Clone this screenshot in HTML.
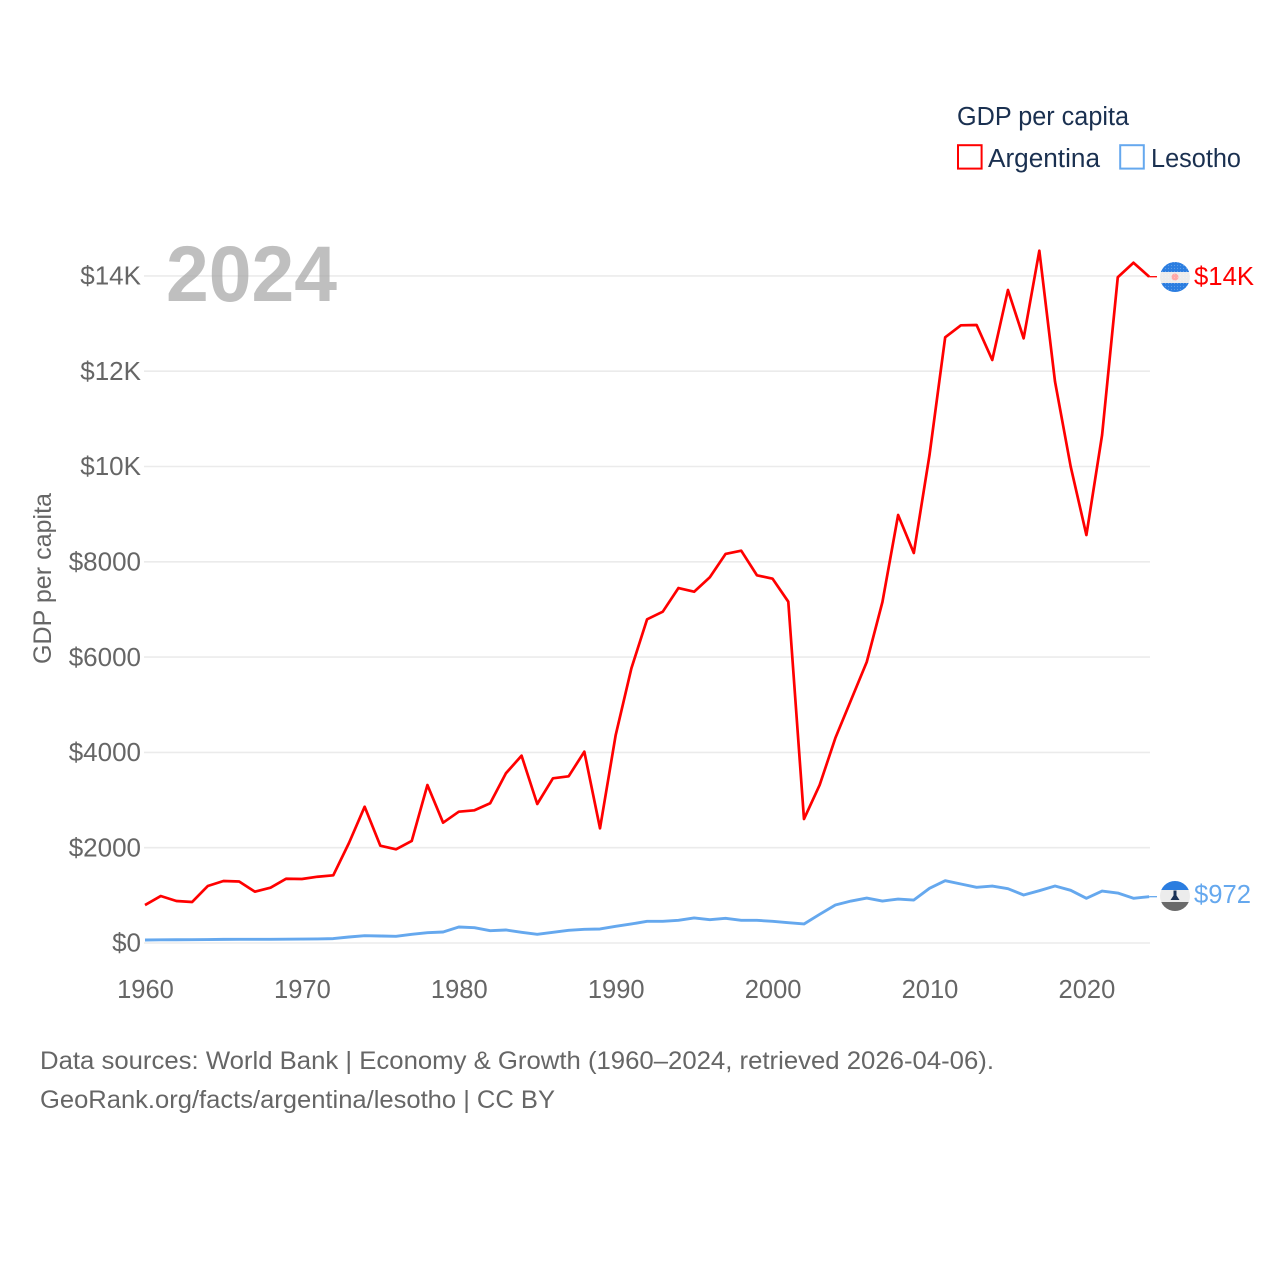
<!DOCTYPE html>
<html lang="en">
<head>
<meta charset="utf-8">
<title>GDP per capita: Argentina and Lesotho</title>
<style>
html,body{margin:0;padding:0;background:#fff;}
svg{display:block;font-family:"Liberation Sans",sans-serif;}
</style>
</head>
<body>
<svg id="chart" width="1280" height="1280" viewBox="0 0 1280 1280" xmlns="http://www.w3.org/2000/svg">
  <defs>
    <clipPath id="flag-clip-ar"><circle cx="1175" cy="277" r="15"/></clipPath>
    <clipPath id="flag-clip-ls"><circle cx="1175" cy="896" r="15"/></clipPath>
    <pattern id="flag-dots" width="3" height="3" patternUnits="userSpaceOnUse">
      <circle cx="1.5" cy="1.5" r="0.6" fill="#ffffff" fill-opacity="0.25"/>
    </pattern>
  </defs>
  <rect x="0" y="0" width="1280" height="1280" fill="#ffffff"/>

  <g id="grid"></g>

  <text x="166" y="301" font-size="79" font-weight="700" fill="#a6a6a6" fill-opacity="0.72" textLength="171" lengthAdjust="spacingAndGlyphs">2024</text>

  <g id="y-labels"></g>
  <g id="x-labels"></g>

  <text transform="translate(51 664) rotate(-90)" x="0" y="0" font-size="25" fill="#666666" textLength="171" lengthAdjust="spacingAndGlyphs">GDP per capita</text>

  <g id="series"></g>

  <g clip-path="url(#flag-clip-ar)">
    <rect x="1160" y="262" width="30" height="10" fill="#2b7de0"/>
    <rect x="1160" y="272" width="30" height="11" fill="#ececec"/>
    <rect x="1160" y="283" width="30" height="10" fill="#2b7de0"/>
    <circle cx="1175" cy="277" r="3.5" fill="#ffa8a8"/>
    <rect x="1160" y="262" width="30" height="31" fill="url(#flag-dots)"/>
  </g>
  <g clip-path="url(#flag-clip-ls)">
    <rect x="1160" y="881" width="30" height="9" fill="#2b7de0"/>
    <rect x="1160" y="890" width="30" height="12" fill="#ececec"/>
    <rect x="1160" y="902" width="30" height="10" fill="#6a6a6a"/>
    <path d="M1173.5 890.5h3v5l3 4.5h-9l3-4.5z" fill="#1b3358"/>
  </g>

  <text x="1194" y="285" font-size="25.5" fill="#ff0000" textLength="60" lengthAdjust="spacingAndGlyphs">$14K</text>
  <text x="1194" y="903" font-size="25.5" fill="#65a8ee" textLength="57" lengthAdjust="spacingAndGlyphs">$972</text>

  <text x="957" y="125" font-size="25.5" fill="#1a3050" textLength="172" lengthAdjust="spacingAndGlyphs">GDP per capita</text>
  <g>
    <rect x="958" y="145.2" width="23.6" height="23.4" fill="none" stroke="#ff0000" stroke-width="2"/>
    <text x="988" y="167" font-size="25.5" fill="#1a3050" textLength="112" lengthAdjust="spacingAndGlyphs">Argentina</text>
  </g>
  <g>
    <rect x="1120.2" y="145.2" width="23.6" height="23.4" fill="none" stroke="#65a8ee" stroke-width="2"/>
    <text x="1151" y="167" font-size="25.5" fill="#1a3050" textLength="90" lengthAdjust="spacingAndGlyphs">Lesotho</text>
  </g>

  <text x="40" y="1069" font-size="25" fill="#666666" textLength="954" lengthAdjust="spacingAndGlyphs">Data sources: World Bank | Economy &amp; Growth (1960–2024, retrieved 2026-04-06).</text>
  <text x="40" y="1108" font-size="25" fill="#666666" textLength="515" lengthAdjust="spacingAndGlyphs">GeoRank.org/facts/argentina/lesotho | CC BY</text>
</svg>

<script>
const years = [1960,1961,1962,1963,1964,1965,1966,1967,1968,1969,1970,1971,1972,1973,1974,1975,1976,1977,1978,1979,1980,1981,1982,1983,1984,1985,1986,1987,1988,1989,1990,1991,1992,1993,1994,1995,1996,1997,1998,1999,2000,2001,2002,2003,2004,2005,2006,2007,2008,2009,2010,2011,2012,2013,2014,2015,2016,2017,2018,2019,2020,2021,2022,2023,2024];
const argentinaValues = [797,986,881,860,1196,1301,1291,1077,1161,1349,1343,1391,1421,2099,2860,2042,1966,2141,3316,2525,2756,2785,2932,3561,3931,2917,3456,3498,4015,2407,4365,5765,6793,6953,7450,7372,7675,8164,8233,7717,7645,7163,2602,3316,4302,5100,5897,7156,8982,8185,10241,12711,12963,12970,12235,13704,12690,14529,11780,9996,8562,10661,13971,14277,13983];
const lesothoValues = [63,66,68,70,72,76,78,78,78,80,82,86,92,126,153,147,141,183,216,231,336,321,258,273,225,183,225,267,288,294,350,399,455,455,476,525,489,518,476,476,455,426,399,602,797,881,944,881,923,902,1148,1307,1238,1169,1196,1140,1007,1098,1196,1106,938,1091,1049,938,972];
const yTickValues = [0,2000,4000,6000,8000,10000,12000,14000];
const yTickLabels = ['$0','$2000','$4000','$6000','$8000','$10K','$12K','$14K'];
const xTickValues = [1960,1970,1980,1990,2000,2010,2020];

const SVG_NS = 'http://www.w3.org/2000/svg';
function xScale(year){ return 145 + (year - 1960) * 15.69; }
function yScale(value){ return 943 - value * 0.04765; }
function make(tag, parentId){
  const el = document.createElementNS(SVG_NS, tag);
  document.getElementById(parentId).appendChild(el);
  return el;
}

yTickValues.forEach(function(value, i){
  const line = make('line', 'grid');
  
  
  line.setAttribute('x1', 144);
  line.setAttribute('x2', 1150);
  line.setAttribute('y1', yScale(value));
  line.setAttribute('y2', yScale(value));
  line.setAttribute('stroke', '#ebebeb');
  line.setAttribute('stroke-width', 1.6);

  const label = make('text', 'y-labels');
  
  
  label.setAttribute('x', 141);
  label.setAttribute('y', yScale(value) + 8.7);
  label.setAttribute('text-anchor', 'end');
  label.setAttribute('font-size', 26);
  label.setAttribute('fill', '#666666');
  label.textContent = yTickLabels[i];
});

xTickValues.forEach(function(year){
  const label = make('text', 'x-labels');
  
  
  label.setAttribute('x', xScale(year) + 0.5);
  label.setAttribute('y', 998);
  label.setAttribute('text-anchor', 'middle');
  label.setAttribute('font-size', 25.5);
  label.setAttribute('fill', '#666666');
  label.textContent = String(year);
});

function pathFor(values){
  return values.map(function(v, i){
    return (i ? 'L' : 'M') + xScale(years[i]).toFixed(2) + ' ' + yScale(v).toFixed(2);
  }).join(' ');
}

const lesothoLine = make('path', 'series');


lesothoLine.setAttribute('d', pathFor(lesothoValues));
lesothoLine.setAttribute('fill', 'none');
lesothoLine.setAttribute('stroke', '#65a8ee');
lesothoLine.setAttribute('stroke-width', 2.9);
lesothoLine.setAttribute('stroke-linejoin', 'round');

const argentinaLine = make('path', 'series');


argentinaLine.setAttribute('d', pathFor(argentinaValues));
argentinaLine.setAttribute('fill', 'none');
argentinaLine.setAttribute('stroke', '#ff0000');
argentinaLine.setAttribute('stroke-width', 2.7);
argentinaLine.setAttribute('stroke-linejoin', 'round');

const lastIndex = years.length - 1;

const argentinaConnector = make('line', 'series');


argentinaConnector.setAttribute('x1', xScale(years[lastIndex]));
argentinaConnector.setAttribute('x2', 1157);
argentinaConnector.setAttribute('y1', yScale(argentinaValues[lastIndex]));
argentinaConnector.setAttribute('y2', yScale(argentinaValues[lastIndex]));
argentinaConnector.setAttribute('stroke', '#ff0000');
argentinaConnector.setAttribute('stroke-width', 1.3);

const lesothoConnector = make('line', 'series');


lesothoConnector.setAttribute('x1', xScale(years[lastIndex]));
lesothoConnector.setAttribute('x2', 1157);
lesothoConnector.setAttribute('y1', yScale(lesothoValues[lastIndex]));
lesothoConnector.setAttribute('y2', yScale(lesothoValues[lastIndex]));
lesothoConnector.setAttribute('stroke', '#65a8ee');
lesothoConnector.setAttribute('stroke-width', 1.3);
</script>
</body>
</html>
